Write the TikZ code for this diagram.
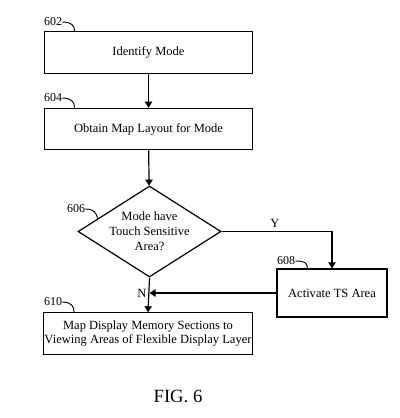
\documentclass[tikz,border=0pt]{standalone}
\usepackage{fontspec}
\setmainfont{Liberation Serif}
\usepackage{tikz}
\usetikzlibrary{positioning, arrows.meta, shapes.geometric, calc}

\tikzset{
  box/.style={draw, line width=0.9pt, minimum width=156.5pt, minimum height=31pt,
              inner sep=0pt, align=center, font=\fontsize{9.4}{10.6}\selectfont},
  decision/.style={draw, shape=diamond, aspect=1.57, line width=0.9pt,
                   minimum width=107.25pt, minimum height=68.25pt, inner sep=-3pt,
                   align=center, font=\fontsize{9.4}{11.3}\selectfont},
  arr/.style={line width=0.9pt, -{Triangle[length=4.5pt,width=5.5pt]}},
  refnum/.style={font=\fontsize{9}{10}\selectfont, inner sep=0pt},
  hook/.style={line width=0.7pt},
  branch/.style={font=\fontsize{9.4}{10}\selectfont, inner sep=0pt}
}

\begin{document}
\begin{tikzpicture}[x=0.75pt, y=-0.75pt]
  \useasboundingbox (0,0) rectangle (400,418);

  % steps
  \node[box] (b602) at (148.5,52.5) {Identify Mode};
  \node[box] (b604) at (148.5,129) {Obtain Map Layout for Mode};
  \node[decision] (b606) at (149.5,231.5) {Mode have\\Touch Sensitive\\Area?};
  \node[box, minimum width=82.5pt, minimum height=36pt] (b608) at (332,293) {Activate TS Area};
  \node[box] (b610) at (148,333.5) {Map Display Memory Sections to\\Viewing Areas of Flexible Display Layer};

  % flow
  \draw[arr] (b602) -- (b604);
  \draw[arr] (b604) -- (b606);
  \draw[arr] (b606.east) -| (b608.north);
  \draw[arr] (b606.south) -- (b610.north);
  \draw[arr] (b608.west) -- (b608.west -| b606.south);
  \node[branch] (yes) at (275,223) {Y};
  \node[branch] (no) at (142,293) {N};

  % reference numerals
  \node[refnum] (l602) at (53,22) {602};
  \node[refnum] (l604) at (53,98) {604};
  \node[refnum] (l606) at (76,209) {606};
  \node[refnum] (l608) at (286,261) {608};
  \node[refnum] (l610) at (53,302) {610};
  \draw[hook] (l602.east) .. controls +(9,0) and +(0,-6) .. ($(b602.north west)+(31,0)$);
  \draw[hook] (l604.east) .. controls +(9,0) and +(0,-6) .. ($(b604.north west)+(31,0)$);
  \draw[hook] (l606.east) .. controls +(8,0) and +(-1,-6) .. ($(b606.west)!0.28!(b606.north)$);
  \draw[hook] (l608.east) .. controls +(9,0) and +(0,-6) .. ($(b608.north west)+(31,0)$);
  \draw[hook] (l610.east) .. controls +(9,0) and +(0,-6) .. ($(b610.north west)+(31,0)$);

  \node[font=\fontsize{14}{16}\selectfont] (fig) at (178,396) {FIG. 6};
\end{tikzpicture}
\end{document}
